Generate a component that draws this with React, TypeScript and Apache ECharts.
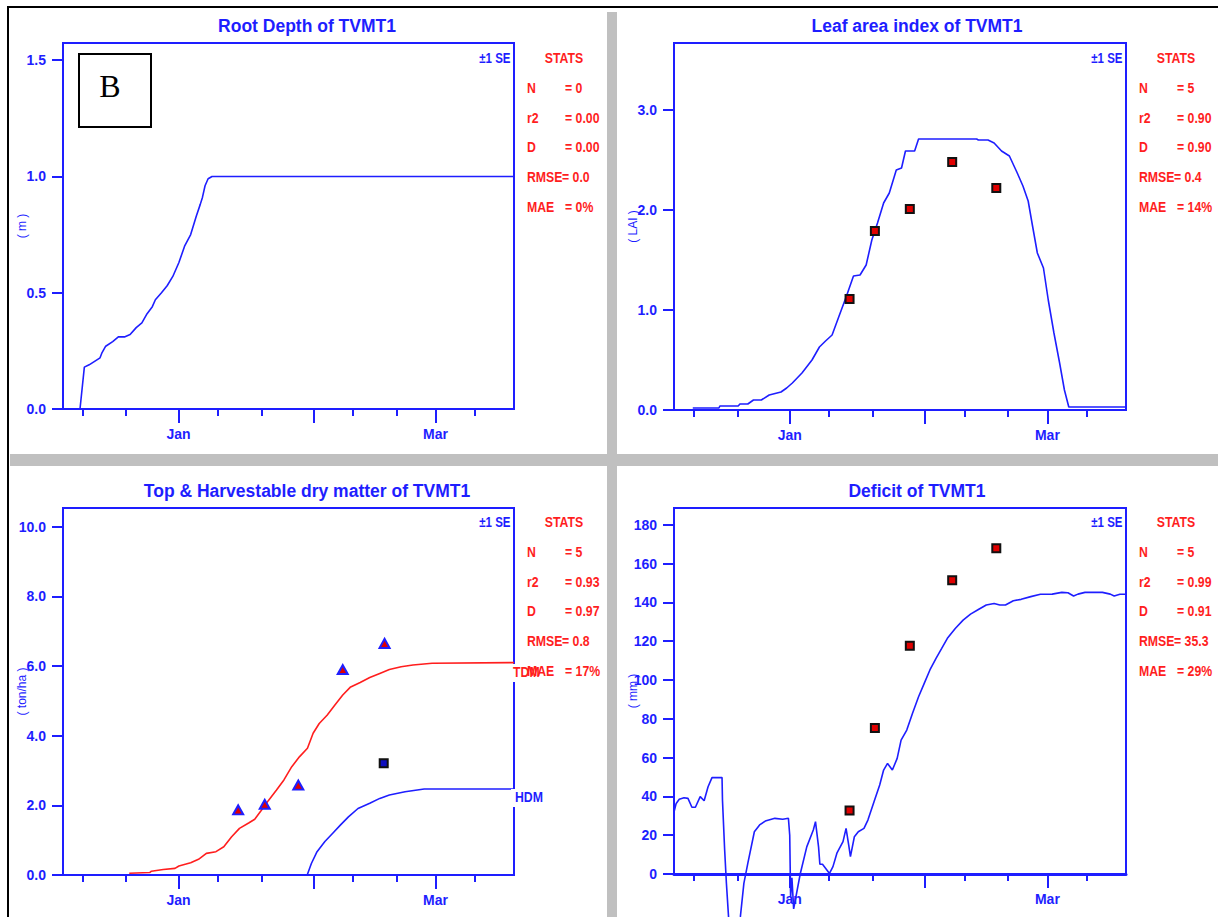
import React, { useEffect, useRef } from "react";
import * as echarts from "echarts";

const BLUE = "#1e1eff";
const RED = "#ff1e1e";
const NARROW = "'Liberation Sans Narrow', 'Arial Narrow', 'Liberation Sans', Arial, sans-serif";
const SANS = "'Liberation Sans', Arial, sans-serif";

// x axis: days counted from 1 January
const X_MIN = -26.5;
const X_MAX = 77;
const minorTickDays = [-22, -12, 9, 19, 40, 50, 68];
const majorTickDays = [0, 31, 59];
const monthLabelDays = [0, 59];
const monthLabels = ["Jan", "Mar"];

const titles = [
  "Root Depth of TVMT1",
  "Leaf area index of TVMT1",
  "Top & Harvestable dry matter of TVMT1",
  "Deficit of TVMT1",
];
const yNames = ["( m )", "( LAI )", "( ton/ha )", "( mm )"];
const yMax = [1.574, 3.67, 10.54, 188.7];
const yTicks = [
  [0, 0.5, 1, 1.5],
  [0, 1, 2, 3],
  [0, 2, 4, 6, 8, 10],
  [0, 20, 40, 60, 80, 100, 120, 140, 160, 180],
];
const yDecimals = [1, 1, 1, 0];

// Root depth (m)
const rootDays = [-26.5, -22.6, -21.6, -20.5, -18.0, -17.6, -16.7, -15.1, -13.8, -12.4, -11.1, -9.7, -8.4, -7.2, -6.0, -5.3, -3.9, -2.6, -1.3, 0.1, 1.4, 2.8, 4.1, 5.0, 5.5, 6.1, 6.8, 7.7, 77];
const rootDepth = [0, 0, 0.18, 0.19, 0.22, 0.24, 0.27, 0.29, 0.31, 0.31, 0.32, 0.35, 0.37, 0.41, 0.44, 0.47, 0.5, 0.53, 0.57, 0.63, 0.7, 0.75, 0.83, 0.88, 0.91, 0.96, 0.99, 1.0, 1.0];

// Leaf area index
const laiDays = [-22.2, -16.2, -16.0, -11.8, -11.4, -9.6, -8.3, -6.5, -4.7, -2.0, -0.7, 0.6, 2.8, 5.1, 6.8, 8.2, 9.7, 11.3, 13.0, 14.6, 16.1, 17.5, 18.8, 20.1, 21.5, 22.8, 24.4, 25.6, 26.5, 28.6, 29.5, 42.8, 43.2, 45.4, 46.8, 48.5, 50.3, 52.1, 53.4, 54.6, 55.6, 56.7, 58.1, 59.2, 60.5, 61.8, 62.9, 63.9, 77];
const laiSim = [0.02, 0.02, 0.04, 0.04, 0.06, 0.06, 0.1, 0.1, 0.15, 0.18, 0.22, 0.27, 0.37, 0.5, 0.63, 0.69, 0.75, 0.94, 1.14, 1.34, 1.35, 1.45, 1.7, 1.87, 2.07, 2.17, 2.4, 2.42, 2.59, 2.59, 2.71, 2.71, 2.7, 2.7, 2.67, 2.59, 2.54, 2.37, 2.24, 2.09, 1.84, 1.57, 1.42, 1.1, 0.77, 0.47, 0.2, 0.03, 0.03];
const laiObsDays = [13.7, 19.5, 27.5, 37.2, 47.3];
const laiObs = [1.11, 1.79, 2.01, 2.48, 2.22];

// Top (TDM) and harvestable (HDM) dry matter, ton/ha
const tdmDays = [-11.3, -6.6, -6.2, -3.5, -0.8, 0.1, 2.8, 4.6, 6.4, 8.6, 10.4, 12.2, 14.0, 16.2, 17.5, 18.9, 20.7, 22.5, 24.2, 26.0, 27.8, 29.6, 30.9, 32.3, 34.1, 35.9, 37.7, 39.4, 41.7, 43.9, 46.2, 48.4, 51.1, 53.8, 58.2, 77];
const tdmSim = [0.05, 0.07, 0.11, 0.16, 0.19, 0.26, 0.35, 0.45, 0.62, 0.67, 0.81, 1.1, 1.34, 1.5, 1.6, 1.84, 2.15, 2.44, 2.73, 3.11, 3.4, 3.64, 4.07, 4.35, 4.59, 4.88, 5.17, 5.39, 5.53, 5.67, 5.79, 5.9, 5.98, 6.03, 6.08, 6.1];
const hdmDays = [29.6, 30.5, 31.8, 33.6, 35.4, 37.2, 39.0, 41.2, 43.9, 46.2, 48.4, 52.0, 56.4, 77];
const hdmSim = [0.02, 0.33, 0.67, 0.96, 1.2, 1.44, 1.67, 1.91, 2.06, 2.2, 2.3, 2.39, 2.47, 2.47];
const tdmObsDays = [13.7, 19.8, 27.5, 37.7, 47.3];
const tdmObs = [1.87, 2.03, 2.58, 5.9, 6.65];
const hdmObsDays = [47.1];
const hdmObs = [3.21];

// Soil water deficit, mm
const defDays = [-26.5, -26.0, -25.3, -24.2, -23.3, -22.4, -21.6, -20.5, -19.6, -18.7, -17.8, -15.5, -15.4, -14.9, -14.5, -13.5, -12.5, -11.3, -10.5, -9.6, -8.1, -6.9, -5.6, -3.4, -1.6, -0.3, 0.0, 0.2, 0.5, 0.9, 2.4, 3.9, 5.4, 5.9, 6.6, 6.9, 7.5, 8.2, 9.1, 9.9, 10.8, 12.2, 12.9, 13.5, 13.9, 14.8, 15.7, 17.0, 17.9, 19.3, 20.6, 21.5, 22.4, 23.5, 24.6, 25.5, 26.8, 28.1, 29.5, 30.8, 32.1, 33.5, 34.8, 36.1, 37.9, 39.7, 41.4, 43.2, 45.0, 46.8, 48.1, 49.4, 51.2, 53.0, 55.2, 57.4, 60.1, 62.3, 63.7, 65.0, 66.0, 67.6, 71.6, 73.4, 74.3, 75.6, 77];
const defSim = [32, 36.4, 38.5, 39.3, 39, 34.4, 34.4, 39.9, 37.8, 45, 49.7, 49.7, 38.1, 12.4, -4.8, -40, -40, -22, -4.8, 5.5, 21.8, 25.3, 27.3, 28.7, 28.2, 28.7, 20, -12, -2, -18, 0, 14, 22.7, 27, 14, 5, 5, 3, 0.3, 3.8, 10.7, 16.7, 23.5, 15, 9, 19.2, 21.8, 23.5, 27.8, 37.3, 45.9, 53.6, 57, 53.6, 59.6, 69, 74.2, 82.8, 91.4, 98.3, 105.2, 111.2, 116.3, 121.5, 126.6, 130.9, 134, 136.4, 138.7, 139.5, 138.7, 138.7, 140.9, 141.6, 143, 144.2, 144.3, 145.2, 145, 143.3, 144.3, 145.2, 145.2, 144.3, 143.3, 144.2, 144.2];
const defObsDays = [13.7, 19.5, 27.5, 37.2, 47.3];
const defObs = [32.7, 75.3, 117.7, 151.5, 167.9];

const statLabels = ["N", "r2", "D", "RMSE", "MAE"];
const statValues = [
  ["= 0", "= 0.00", "= 0.00", "= 0.0", "= 0%"],
  ["= 5", "= 0.90", "= 0.90", "= 0.4", "= 14%"],
  ["= 5", "= 0.93", "= 0.97", "= 0.8", "= 17%"],
  ["= 5", "= 0.99", "= 0.91", "= 35.3", "= 29%"],
];

const zip = (xs: number[], ys: number[]) => xs.map((x, i) => [x, ys[i]]);

const grids = [
  { left: 63, top: 43, width: 451, height: 366 },
  { left: 674, top: 43, width: 452, height: 367 },
  { left: 63, top: 508, width: 451, height: 367 },
  { left: 674, top: 508, width: 452, height: 366 },
];
const panelOffsets = [
  [0, 0],
  [612, 0],
  [0, 464],
  [612, 464],
];

function txt(text: string, x: number, y: number, opts: any = {}) {
  const align = opts.align || "left";
  return {
    type: "text",
    x,
    y,
    scaleX: opts.scaleX ?? 1,
    z: 100,
    style: {
      text,
      fill: opts.color || BLUE,
      fontSize: opts.size || 14,
      fontWeight: opts.weight || "bold",
      fontFamily: opts.family || SANS,
      align,
      textAlign: align,
      verticalAlign: "middle",
      textVerticalAlign: "middle",
    },
  };
}

function buildOption() {
  const xAxis: any[] = [];
  const yAxis: any[] = [];
  grids.forEach((_, g) => {
    const lineW = g === 3 ? 3 : 2;
    xAxis.push({
      gridIndex: g,
      type: "value",
      min: X_MIN,
      max: X_MAX,
      position: "bottom",
      axisLine: { show: true, onZero: false, lineStyle: { color: BLUE, width: lineW } },
      axisTick: { show: true, length: 7, customValues: minorTickDays, lineStyle: { color: BLUE, width: 2 } },
      axisLabel: { show: false },
      splitLine: { show: false },
    });
    xAxis.push({
      gridIndex: g,
      type: "value",
      min: X_MIN,
      max: X_MAX,
      position: "bottom",
      axisLine: { show: false, onZero: false },
      axisTick: { show: true, length: 14, customValues: majorTickDays, lineStyle: { color: BLUE, width: 2 } },
      axisLabel: {
        show: true,
        customValues: monthLabelDays,
        formatter: (v: number) => monthLabels[monthLabelDays.indexOf(Math.round(v))] || "",
        color: BLUE,
        fontSize: 14,
        fontWeight: "bold",
        fontFamily: NARROW,
        margin: 18,
      },
      splitLine: { show: false },
    });
    yAxis.push({
      gridIndex: g,
      type: "value",
      min: 0,
      max: yMax[g],
      axisLine: { show: true, onZero: false, lineStyle: { color: BLUE, width: 2 } },
      axisTick: { show: true, length: 11, customValues: yTicks[g], lineStyle: { color: BLUE, width: 2 } },
      axisLabel: {
        show: true,
        customValues: yTicks[g],
        formatter: (v: number) => v.toFixed(yDecimals[g]),
        color: BLUE,
        fontSize: 14,
        fontWeight: "bold",
        fontFamily: NARROW,
        margin: 17,
      },
      splitLine: { show: false },
      name: yNames[g],
      nameLocation: "middle",
      nameGap: 35,
      nameMoveOverlap: false,
      nameTextStyle: { color: BLUE, fontSize: 12, fontFamily: SANS },
    });
  });

  const lineSeries = (g: number, data: number[][], color: string, extra: any = {}) => ({
    type: "line",
    xAxisIndex: g * 2,
    yAxisIndex: g,
    data,
    showSymbol: false,
    symbol: "none",
    lineStyle: { color, width: 1.6 },
    z: 3,
    ...extra,
  });
  const obsSeries = (g: number, data: number[][], symbol: string, size: any, fill: string, border: string) => ({
    type: "scatter",
    xAxisIndex: g * 2,
    yAxisIndex: g,
    data,
    symbol,
    symbolSize: size,
    itemStyle: { color: fill, borderColor: border, borderWidth: 2, opacity: 1 },
    z: 5,
  });

  const series = [
    lineSeries(0, zip(rootDays, rootDepth), BLUE),
    lineSeries(1, zip(laiDays, laiSim), BLUE),
    obsSeries(1, zip(laiObsDays, laiObs), "rect", 8, "#e00000", "#111111"),
    lineSeries(2, zip(tdmDays, tdmSim), RED),
    lineSeries(2, zip(hdmDays, hdmSim), BLUE),
    obsSeries(2, zip(tdmObsDays, tdmObs), "triangle", [10, 9], "#e00000", BLUE),
    obsSeries(2, zip(hdmObsDays, hdmObs), "rect", 8, "#1010c0", "#111111"),
    lineSeries(3, zip(defDays, defSim), BLUE, { clip: false }),
    obsSeries(3, zip(defObsDays, defObs), "rect", 8, "#e00000", "#111111"),
  ];

  const elements: any[] = [];
  // frame and separators
  elements.push({ type: "rect", z: 90, shape: { x: 607, y: 12, width: 10, height: 905 }, style: { fill: "#c0c0c0" } });
  elements.push({ type: "rect", z: 90, shape: { x: 10, y: 454, width: 1208, height: 12 }, style: { fill: "#c0c0c0" } });
  elements.push({ type: "line", z: 90, shape: { x1: 8, y1: 7, x2: 1218, y2: 7 }, style: { stroke: "#000", lineWidth: 2 } });
  elements.push({ type: "line", z: 90, shape: { x1: 8, y1: 6, x2: 8, y2: 917 }, style: { stroke: "#000", lineWidth: 2 } });
  // panel B box
  elements.push({ type: "rect", z: 90, shape: { x: 79, y: 54, width: 72, height: 73 }, style: { fill: "#fff", stroke: "#000", lineWidth: 2 } });
  elements.push(txt("B", 110, 86, { color: "#000", size: 32, weight: "normal", family: "'Liberation Serif', 'Times New Roman', serif", align: "center" }));
  // white backgrounds behind the end labels
  elements.push({ type: "rect", z: 95, shape: { x: 511, y: 664, width: 30, height: 18 }, style: { fill: "#fff" } });
  elements.push({ type: "rect", z: 95, shape: { x: 511, y: 789, width: 34, height: 18 }, style: { fill: "#fff" } });

  titles.forEach((t, p) => {
    const [ox, oy] = panelOffsets[p];
    elements.push(txt(t, 307 + ox - (p % 2) * 2, 26 + oy + (oy ? 0.7 : 0), { size: 17.5, align: "center" }));
    elements.push(txt("±1 SE", 510.5 + ox, 58 + oy, { size: 14, align: "right", scaleX: 0.82 }));
    elements.push(txt("STATS", 564 + ox, 58 + oy, { size: 15, align: "center", color: RED, scaleX: 0.82 }));
    statLabels.forEach((lab, i) => {
      const y = 88 + i * 29.7 + oy;
      elements.push(txt(lab, 527 + ox, y, { size: 15, color: RED, scaleX: 0.82 }));
      elements.push(txt(statValues[p][i], (i === 3 ? 562 : 565) + ox, y, { size: 15, color: RED, scaleX: 0.82 }));
    });
  });
  elements.push(txt("TDM", 513, 672, { size: 15, color: RED, scaleX: 0.82 }));
  elements.push(txt("HDM", 515, 797, { size: 15, color: BLUE, scaleX: 0.82 }));

  return {
    animation: false,
    backgroundColor: "#ffffff",
    grid: grids.map((g) => ({ ...g, show: true, borderColor: BLUE, borderWidth: 2, backgroundColor: "transparent", containLabel: false })),
    xAxis,
    yAxis,
    series,
    graphic: { elements },
  };
}

export default function App() {
  const ref = useRef<HTMLDivElement | null>(null);
  useEffect(() => {
    if (!ref.current) return;
    const chart = echarts.init(ref.current, undefined, { renderer: "svg" });
    chart.setOption(buildOption() as any);
    return () => chart.dispose();
  }, []);
  return (
    <div
      ref={ref}
      style={{ position: "absolute", left: 0, top: 0, width: 1218, height: 917, background: "#fff" }}
    />
  );
}
